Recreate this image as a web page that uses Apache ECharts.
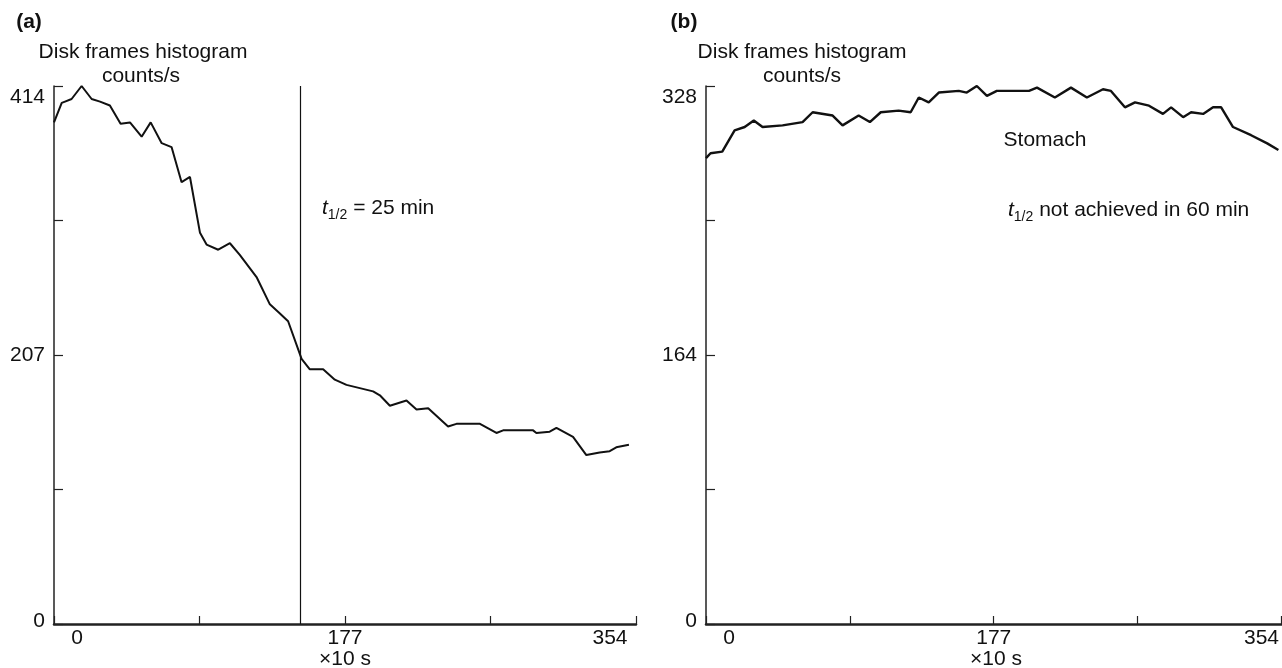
<!DOCTYPE html>
<html>
<head>
<meta charset="utf-8">
<script src="https://cdn.jsdelivr.net/npm/echarts@6/dist/echarts.min.js"></script>
<style>
  html, body { margin: 0; padding: 0; background: #fff; }
  #chart { width: 1282px; height: 668px; }
</style>
</head>
<body>
<div id="chart"></div>
<script>
// panel (a): disk frames histogram, counts/s vs time (x10 s)
const leftTime = [0, 4.7, 6.7, 10.7, 16.8, 22.9, 28, 34, 40.5, 46.2, 53.3, 58.8, 65.5, 71.5, 77.6, 82.7, 88.8, 92.8, 99.9, 107, 113, 123.2, 131.3, 137.4, 142.4, 150.6, 155.6, 163.7, 170.8, 177.9, 194.1, 198.2, 204.3, 214.4, 220.5, 227.6, 239.7, 244.8, 259.1, 269.1, 273.2, 291.4, 293.4, 301.5, 305.6, 315.7, 323.8, 331.9, 338, 342, 349.7];
const leftCounts = [386, 401, 402, 404, 414, 404, 402, 399, 385, 386, 375, 386, 370, 367, 340, 344, 301, 292, 288, 293, 284, 267, 246, 239, 233, 204, 196, 196, 188, 184, 179, 176, 168, 172, 165, 166, 152, 154, 154, 147, 149, 149, 147, 148, 151, 144, 130, 132, 133, 136, 138];
// panel (b): stomach
const rightTime = [0, 2.8, 10, 17.6, 23.8, 29.4, 34.8, 47.1, 59.4, 65.6, 77.9, 84, 93.9, 100.8, 107.5, 118.5, 125.9, 130.9, 137, 143.2, 155.5, 160.4, 166.6, 172.8, 178.9, 198.7, 203.6, 214.6, 224.5, 234.3, 244.2, 249.1, 257.7, 263.9, 272.5, 281.1, 286.1, 293.5, 298.4, 305.8, 311.9, 316.9, 324.2, 335.3, 345.2, 352.1];
const rightCounts = [284, 287, 288, 301, 303, 307, 303, 304, 306, 312, 310, 304, 310, 306, 312, 313, 312, 321, 318, 324, 325, 324, 328, 322, 325, 325, 327, 321, 327, 321, 326, 325, 315, 318, 316, 311, 315, 309, 312, 311, 315, 315, 303, 298, 293, 289];

const xLabels = [0, 177, 354];
const leftYLabels = [0, 207, 414];
const rightYLabels = [0, 164, 328];
const halfTime = 150; // t1/2 = 25 min

const FONT = "'Liberation Sans', Arial, Helvetica, sans-serif";

function pairs(xs, ys) {
  return xs.map((x, i) => [x, ys[i]]);
}

function xAxisFor(gridIndex, lastPad) {
  return {
    gridIndex: gridIndex,
    type: 'value',
    min: 0,
    max: 354,
    interval: 88.5,
    splitLine: { show: false },
    axisLine: { lineStyle: { color: '#222', width: 2.5 } },
    axisTick: { inside: true, length: 8, lineStyle: { color: '#222', width: 1.2 } },
    axisLabel: {
      margin: 4,
      fontFamily: FONT,
      fontSize: 21,
      color: '#111',
      formatter: function (v) {
        if (v === 0) return '{first|0}';
        if (v === 354) return '{last|354}';
        return xLabels.indexOf(v) >= 0 ? String(v) : '';
      },
      rich: {
        first: { fontFamily: FONT, fontSize: 21, color: '#111', padding: [0, 0, 0, 46] },
        last: { fontFamily: FONT, fontSize: 21, color: '#111', padding: [0, lastPad, 0, 0] }
      }
    }
  };
}

function yAxisFor(gridIndex, max, labels) {
  return {
    gridIndex: gridIndex,
    type: 'value',
    min: 0,
    max: max,
    interval: max / 4,
    splitLine: { show: false },
    axisLine: { lineStyle: { color: '#222', width: 1.5 } },
    axisTick: { inside: true, length: 9, lineStyle: { color: '#222', width: 1.2 } },
    axisLabel: {
      margin: 9,
      fontFamily: FONT,
      fontSize: 21,
      color: '#111',
      formatter: function (v) {
        if (v === max) return '{top|' + v + '}';
        if (v === 0) return '{bot|0}';
        return labels.indexOf(v) >= 0 ? String(v) : '';
      },
      rich: {
        top: { fontFamily: FONT, fontSize: 21, color: '#111', padding: [22, 0, 0, 0] },
        bot: { fontFamily: FONT, fontSize: 21, color: '#111', padding: [0, 0, 6, 0] }
      }
    }
  };
}

function textAt(x, y, text, opts) {
  return {
    type: 'text',
    x: x,
    y: y,
    style: Object.assign({
      text: text,
      font: '21px ' + FONT,
      fill: '#111',
      align: 'center',
      verticalAlign: 'middle'
    }, opts || {})
  };
}

function halfText(x, y, rest) {
  return {
    type: 'text',
    x: x,
    y: y,
    style: {
      text: '{t|t}{s|1/2}{r|' + rest + '}',
      align: 'left',
      verticalAlign: 'middle',
      rich: {
        t: { fontFamily: FONT, fontSize: 21, fontStyle: 'italic', fill: '#111' },
        s: { fontFamily: FONT, fontSize: 14, fill: '#111', padding: [14, 0, 0, 0] },
        r: { fontFamily: FONT, fontSize: 21, fill: '#111' }
      }
    }
  };
}

const chart = echarts.init(document.getElementById('chart'), null, { renderer: 'canvas' });

const option = {
  backgroundColor: '#fff',
  animation: false,
  grid: [
    { left: 54, right: 646, top: 86, bottom: 44 },
    { left: 706, right: 0, top: 86, bottom: 44 }
  ],
  xAxis: [xAxisFor(0, 52), xAxisFor(1, 40)],
  yAxis: [yAxisFor(0, 414, leftYLabels), yAxisFor(1, 328, rightYLabels)],
  series: [
    {
      type: 'line',
      xAxisIndex: 0,
      yAxisIndex: 0,
      data: pairs(leftTime, leftCounts),
      showSymbol: false,
      lineStyle: { color: '#111', width: 2 },
      markLine: {
        silent: true,
        symbol: 'none',
        label: { show: false },
        lineStyle: { color: '#111', width: 1.2, type: 'solid' },
        data: [{ xAxis: halfTime }]
      }
    },
    {
      type: 'line',
      xAxisIndex: 1,
      yAxisIndex: 1,
      data: pairs(rightTime, rightCounts),
      showSymbol: false,
      lineStyle: { color: '#111', width: 2.4 }
    }
  ],
  graphic: [
    textAt(29, 22, '(a)', { font: 'bold 21px ' + FONT }),
    textAt(143, 52, 'Disk frames histogram'),
    textAt(141, 76, 'counts/s'),
    textAt(345, 659, '×10 s'),
    halfText(322, 208, ' = 25 min'),

    textAt(684, 22, '(b)', { font: 'bold 21px ' + FONT }),
    textAt(802, 52, 'Disk frames histogram'),
    textAt(802, 76, 'counts/s'),
    textAt(996, 659, '×10 s'),
    textAt(1045, 140, 'Stomach'),
    halfText(1008, 210, ' not achieved in 60 min')
  ]
};

chart.setOption(option);
</script>
</body>
</html>
